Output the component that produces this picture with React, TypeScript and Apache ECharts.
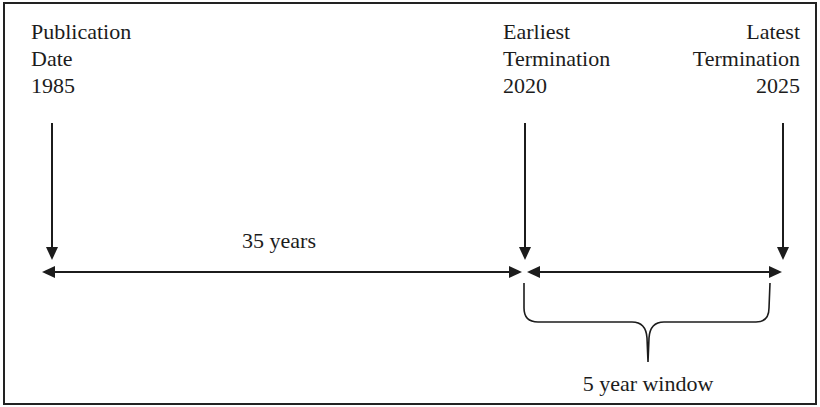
import React, { useEffect, useRef } from "react";
import * as echarts from "echarts";

// Milestone labels (each entry: lines of text)
const milestoneLabels: string[][] = [
  ["Publication", "Date", "1985"],
  ["Earliest", "Termination", "2020"],
  ["Latest", "Termination", "2025"],
];
const milestoneYears = [1985, 2020, 2025];
const spanLabels = ["35 years", "5 year window"];

const INK = "#1c1c1c";
const FONT = "Liberation Serif, Times New Roman, serif";

function vArrow(x: number, y0: number, tip: number) {
  return [
    { type: "line", shape: { x1: x, y1: y0, x2: x, y2: tip - 10 }, style: { stroke: INK, lineWidth: 2 } },
    { type: "polygon", shape: { points: [[x - 6, tip - 13], [x + 6, tip - 13], [x, tip]] }, style: { fill: INK } },
  ];
}

function hArrow(x1: number, x2: number, y: number) {
  return [
    { type: "line", shape: { x1: x1 + 10, y1: y, x2: x2 - 10, y2: y }, style: { stroke: INK, lineWidth: 2 } },
    { type: "polygon", shape: { points: [[x1, y], [x1 + 13, y - 6], [x1 + 13, y + 6]] }, style: { fill: INK } },
    { type: "polygon", shape: { points: [[x2, y], [x2 - 13, y - 6], [x2 - 13, y + 6]] }, style: { fill: INK } },
  ];
}

echarts.graphic.registerShape(
  "brace",
  echarts.graphic.extendPath(
    "M524,283 L524,308 Q524,322 538,322 L632,322 Q646,322 647,338 L648,362 L649,338 Q650,322 664,322 L756,322 Q769,322 769,308 L770,283",
    {}
  )
);

function txt(x: number, y: number, text: string, align: string) {
  return {
    type: "text",
    x,
    y,
    style: {
      text,
      fill: INK,
      fontFamily: FONT,
      fontSize: 22,
      align,
      verticalAlign: "middle",
    },
  };
}

export default function App() {
  const ref = useRef<HTMLDivElement>(null);
  useEffect(() => {
    if (!ref.current) return;
    const chart = echarts.init(ref.current, null, { renderer: "svg" });
    const arrowX = [52, 525, 783];
    const textX = [31, 503, 800];
    const aligns = ["left", "left", "right"];
    const lineY = [31, 58, 85];
    const texts: any[] = [];
    milestoneLabels.forEach((lines, i) => {
      lines.forEach((t, j) => {
        texts.push(txt(textX[i], lineY[j], j === 2 ? String(milestoneYears[i]) : t, aligns[i]));
      });
    });
    chart.setOption({
      animation: false,
      graphic: [
        { type: "rect", shape: { x: 4, y: 3, width: 812, height: 401 }, style: { fill: "#fff", stroke: "#222", lineWidth: 2 } },
        ...texts,
        ...arrowX.flatMap((x) => vArrow(x, 123, 260)),
        ...hArrow(42, 522, 272),
        ...hArrow(527, 782, 272),
        txt(279, 240, spanLabels[0], "center"),
        { type: "brace", style: { stroke: INK, lineWidth: 1.6, fill: null } },
        txt(648, 383, spanLabels[1], "center"),
      ],
    });
    return () => chart.dispose();
  }, []);
  return <div ref={ref} style={{ width: 820, height: 407, position: "absolute", left: 0, top: 0 }} />;
}
